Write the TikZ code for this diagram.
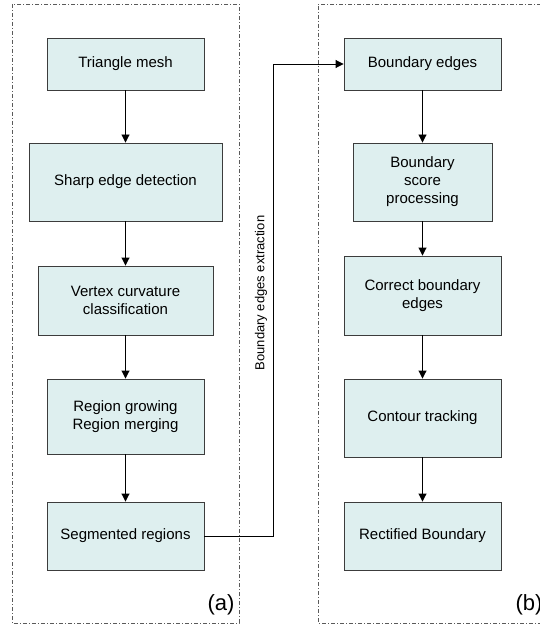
\documentclass[tikz,border=0pt]{standalone}
\usepackage{fontspec}
\setmainfont{Liberation Sans}
\usetikzlibrary{arrows.meta}
\definecolor{boxfill}{RGB}{222,239,239}
\definecolor{boxline}{RGB}{60,60,60}
\definecolor{framecol}{RGB}{90,90,90}
\tikzset{
  stepbox/.style={draw=boxline, fill=boxfill, line width=0.9pt, rectangle, align=center,
    inner sep=2pt, font=\fontsize{15}{18}\selectfont},
  flow/.style={draw=black, line width=0.9pt, -{Triangle[length=8pt,width=8pt]}},
  frame/.style={draw=framecol, line width=0.9pt, dash pattern=on 4pt off 2pt on 1pt off 2pt}
}
\begin{document}
\begin{tikzpicture}[x=1pt,y=-1pt]
\useasboundingbox (0,0) rectangle (540,631);
% frames
\draw[frame] (12,4) rectangle (239,623);
\draw[frame] (541,4) -- (318,4) -- (318,623) -- (541,623);
% left column
\node[stepbox, minimum width=157pt, minimum height=52pt] (tm) at (125.5,64) {Triangle mesh};
\node[stepbox, minimum width=193pt, minimum height=78pt] (sed) at (125.5,182) {Sharp edge detection};
\node[stepbox, minimum width=175pt, minimum height=69pt] (vcc) at (125.5,300.5) {Vertex curvature\\classification};
\node[stepbox, minimum width=157pt, minimum height=75pt] (rg) at (125.5,416.5) {Region growing\\Region merging};
\node[stepbox, minimum width=157pt, minimum height=68pt] (sr) at (125.5,536) {Segmented regions};
% right column
\node[stepbox, minimum width=157pt, minimum height=52pt] (be) at (422.5,64) {Boundary edges};
\node[stepbox, minimum width=139pt, minimum height=78pt] (bsp) at (422.5,182) {Boundary\\score\\processing};
\node[stepbox, minimum width=157pt, minimum height=79pt] (cbe) at (422.5,295.5) {Correct boundary\\edges};
\node[stepbox, minimum width=157pt, minimum height=78pt] (ct) at (422.5,418) {Contour tracking};
\node[stepbox, minimum width=157pt, minimum height=68pt] (rb) at (422.5,536) {Rectified Boundary};
% arrows
\draw[flow] (tm) -- (sed);
\draw[flow] (sed) -- (vcc);
\draw[flow] (vcc) -- (rg);
\draw[flow] (rg) -- (sr);
\draw[flow] (be) -- (bsp);
\draw[flow] (bsp) -- (cbe);
\draw[flow] (cbe) -- (ct);
\draw[flow] (ct) -- (rb);
\coordinate (turn) at (273,536);
\draw[flow] (sr.east) -- (turn) |- (be.west);
\node[rotate=90, font=\fontsize{13}{15}\selectfont] (lbl) at (261,293) {Boundary edges extraction};
% panel labels
\node[font=\fontsize{22}{26}\selectfont] (la) at (221,605) {(a)};
\node[font=\fontsize{22}{26}\selectfont] (lb) at (529,605) {(b)};
\end{tikzpicture}
\end{document}
